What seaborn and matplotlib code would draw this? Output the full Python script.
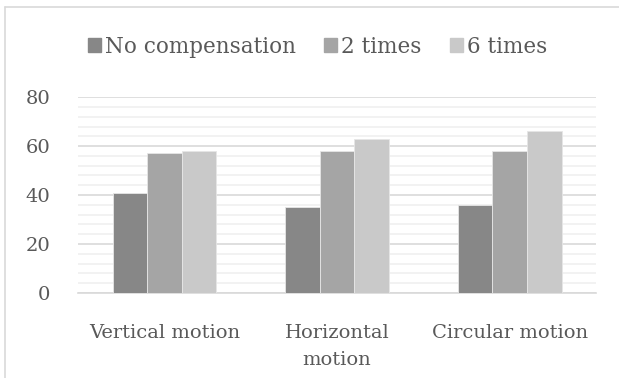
import numpy as np
import pandas as pd
import matplotlib.pyplot as plt
import matplotlib.patches as mpatches
import matplotlib.lines as mlines
import seaborn as sns

categories = ["Vertical motion", "Horizontal\nmotion", "Circular motion"]
series = ["No compensation", "2 times", "6 times"]
no_comp = [41, 35, 36]
two_times = [57, 58, 58]
six_times = [58, 63, 66]
colors = ["#878787", "#a5a5a5", "#c9c9c9"]

df = pd.DataFrame({
    "category": categories * 3,
    "series": [s for s in series for _ in categories],
    "value": no_comp + two_times + six_times,
})

sns.set_style("white")
plt.rcParams["font.family"] = ["DejaVu Serif"]
txt = "#595959"

fig = plt.figure(figsize=(6.19, 3.78), dpi=100)
ax = fig.add_axes([0.126, 0.225, 0.837, 0.518])

sns.barplot(data=df, x="category", y="value", hue="series", order=categories,
            hue_order=series, palette=colors, width=0.6, ax=ax,
            edgecolor="#e6e6e6", linewidth=0.6, legend=False, zorder=3)

ax.set_ylim(0, 80)
ax.set_xlim(-0.5, 2.5)
ax.set_yticks(np.arange(0, 81, 20))
ax.set_yticks(np.arange(0, 81, 4), minor=True)
ax.grid(axis="y", which="major", color="#d9d9d9", linewidth=1.2, zorder=0)
ax.grid(axis="y", which="minor", color="#f0f0f0", linewidth=1.2, zorder=0)
ax.set_axisbelow(True)
for s in ["top", "right", "left"]:
    ax.spines[s].set_visible(False)
ax.spines["bottom"].set_color("#d9d9d9")
ax.spines["bottom"].set_linewidth(1.2)
ax.tick_params(axis="both", which="both", length=0, labelsize=14, labelcolor=txt)
ax.tick_params(axis="y", pad=20)
ax.tick_params(axis="x", pad=22)
for lab in ax.get_xticklabels():
    lab.set_linespacing(1.65)
ax.set_xlabel("")
ax.set_ylabel("")

handles = [mpatches.Patch(color=c, label=s) for c, s in zip(colors, series)]
fig.legend(handles=handles, loc="center", bbox_to_anchor=(0.513, 0.876), ncol=3,
           frameon=False, fontsize=15.5, labelcolor=txt, handlelength=0.6,
           handleheight=0.6, handletextpad=0.2, columnspacing=1.3)

# outer chart border (top and left edges visible)
fig.add_artist(mlines.Line2D([5 / 619, 1], [1 - 7 / 378] * 2, transform=fig.transFigure,
                             color="#d9d9d9", linewidth=1.2))
fig.add_artist(mlines.Line2D([5 / 619] * 2, [0, 1 - 7 / 378], transform=fig.transFigure,
                             color="#d9d9d9", linewidth=1.2))

fig.savefig("out.png", dpi=100)
